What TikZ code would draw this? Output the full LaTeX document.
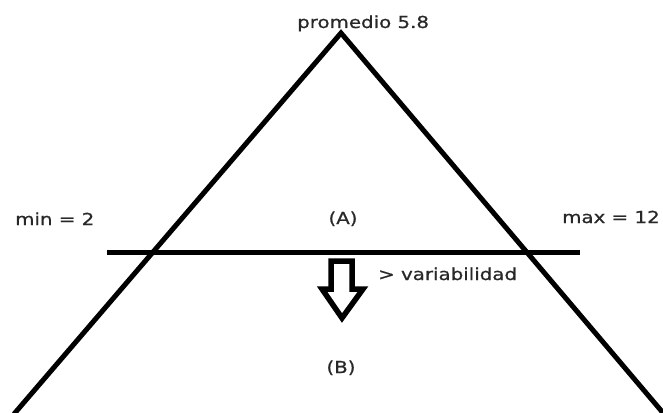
\documentclass[tikz,border=0pt]{standalone}
\usepackage{fontspec}
\newfontfamily\lblfont[FakeStretch=1.2, FakeBold=0.8]{DejaVu Sans}
\usetikzlibrary{positioning}
\definecolor{txtgray}{RGB}{40,40,40}
\tikzset{
  leg/.style={line width=5pt, line join=miter},
  cut/.style={line width=5pt},
  blockarr/.style={line width=5.5pt, line join=miter},
  lbl/.style={font=\lblfont\fontsize{16.5}{19}\selectfont, text=txtgray, inner sep=0pt},
}

\begin{document}
\begin{tikzpicture}[x=1pt, y=1pt]
    \useasboundingbox (0,0) rectangle (663,-412);
    % triangle
    \coordinate (apex) at (341,-33);
    \coordinate (baseL) at (14,-414);
    \coordinate (baseR) at (664,-414);
    \draw[leg] (baseL) -- (apex) -- (baseR);
    % cutting line
    \coordinate (cutL) at (107,-252);
    \coordinate (cutR) at (580,-252);
    \draw[cut] (cutL) -- (cutR);
    % hollow arrow
    \draw[blockarr] (331,-261) -- (352,-261) -- (352,-289) -- (363,-289)
      -- (342,-318) -- (322,-289) -- (331,-289) -- cycle;
    % labels
    \node[lbl, anchor=base west] (prom) at (297,-28) {promedio 5.8};
    \node[lbl, anchor=base west] (min) at (15,-225) {min = 2};
    \node[lbl, anchor=base west] (max) at (562,-223) {max = 12};
    \node[lbl, anchor=base] (A) at (343,-224) {(A)};
    \node[lbl, anchor=base west] (var) at (378,-280) {> variabilidad};
    \node[lbl, anchor=base] (B) at (341,-373) {(B)};
\end{tikzpicture}
\end{document}
